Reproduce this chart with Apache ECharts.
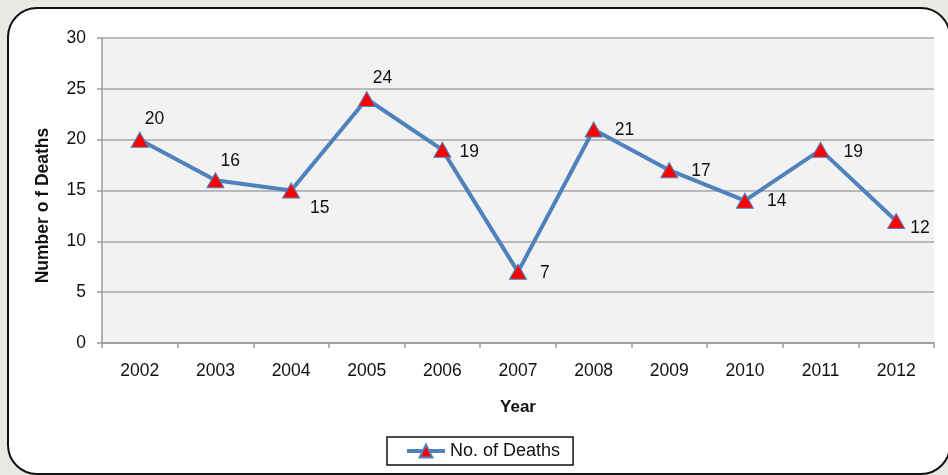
<!DOCTYPE html>
<html>
<head>
<meta charset="utf-8">
<script src="https://cdn.jsdelivr.net/npm/echarts@6/dist/echarts.min.js"></script>
<style>
html,body{margin:0;padding:0;width:948px;height:475px;overflow:hidden;background:#ebe9e5;}
#box{position:absolute;left:7px;top:7px;width:940px;height:464px;border:2px solid #111;border-radius:30px;background:#fff;}
#chart{position:absolute;left:0;top:0;width:948px;height:475px;}
</style>
</head>
<body>
<div id="box"></div>
<div id="chart"></div>
<script>
var categories = ['2002','2003','2004','2005','2006','2007','2008','2009','2010','2011','2012'];
var deaths = [20,16,15,24,19,7,21,17,14,19,12];
var seriesName = 'No. of Deaths';
var yTicks = [0,5,10,15,20,25,30];

// label placement tweaks (style only)
var labelOffsets = {
  0: [-9,-20], 1: [-9,-19], 2: [5,18], 3: [-8,-21], 4: [3,2], 5: [8,1],
  6: [7,1], 7: [8,1], 8: [8,1], 9: [9,2], 10: [0,7]
};

var chart = echarts.init(document.getElementById('chart'));
var data = deaths.map(function(v,i){
  return {value:v, label:{offset:labelOffsets[i]||[0,0]}};
});
var font = 'Liberation Sans, Arial, sans-serif';
chart.setOption({
  backgroundColor:'transparent',
  animation:false,
  textStyle:{fontFamily:font},
  grid:{left:102,right:14,top:38,bottom:132,show:true,backgroundColor:'#f2f2f2',borderWidth:0},
  legend:{
    left:387, top:437, padding:[5,13,5,18],
    borderColor:'#111', borderWidth:1.5, borderRadius:0,
    itemWidth:38, itemHeight:16,
    lineStyle:{width:4},
    textStyle:{fontSize:18,color:'#111',fontFamily:font},
    data:[seriesName]
  },
  xAxis:{
    type:'category', data:categories,
    name:'Year', nameLocation:'middle', nameGap:56,
    nameTextStyle:{fontWeight:'bold',fontSize:17,color:'#111',fontFamily:font},
    axisLine:{lineStyle:{color:'#9a9a9a',width:1.5}},
    axisTick:{show:true,length:5,lineStyle:{color:'#9a9a9a',width:1.5}},
    axisLabel:{fontSize:17.5,color:'#111',margin:19,fontFamily:font},
    splitLine:{show:false}
  },
  yAxis:{
    type:'value', min:yTicks[0], max:yTicks[yTicks.length-1], interval:5,
    name:'Number o f Deaths', nameLocation:'middle', nameGap:50,
    nameTextStyle:{fontWeight:'bold',fontSize:17.5,color:'#111',fontFamily:font,padding:[0,30,0,0]},
    axisLine:{show:true,lineStyle:{color:'#9a9a9a',width:1.5}},
    axisTick:{show:true,length:5,lineStyle:{color:'#9a9a9a',width:1.5}},
    axisLabel:{fontSize:17.5,color:'#111',margin:16,fontFamily:font},
    splitLine:{show:true,lineStyle:{color:'#a6a6a6',width:1.5}}
  },
  series:[{
    name:seriesName, type:'line', data:data,
    symbol:'triangle', symbolSize:[17,15],
    lineStyle:{color:'#4f81bd',width:4},
    itemStyle:{color:'#ff0000',borderColor:'#4f81bd',borderWidth:1},
    label:{show:true,position:'right',distance:5,fontSize:17.5,color:'#111',fontFamily:font}
  }]
});
</script>
</body>
</html>
